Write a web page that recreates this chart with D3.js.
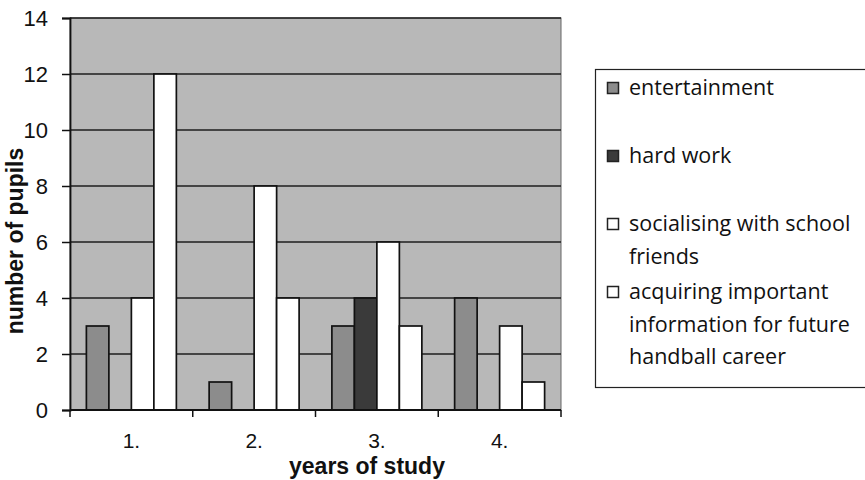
<!DOCTYPE html>
<html><head><meta charset="utf-8">
<script src="https://cdn.jsdelivr.net/npm/d3@7"></script>
<style>body{margin:0;background:#fff}svg{display:block}</style>
</head><body>
<svg id="c" width="865" height="480"></svg>
<script>
const categories = ["1.", "2.", "3.", "4."];
const seriesNames = ["entertainment", "hard work", "socialising with school friends", "acquiring important information for future handball career"];
const legendLines = [["entertainment"], ["hard work"], ["socialising with school", "friends"], ["acquiring important", "information for future", "handball career"]];
const entertainment = [3, 1, 3, 4];
const hardWork = [0, 0, 4, 0];
const socialising = [4, 8, 6, 3];
const acquiring = [12, 4, 3, 1];
const yTicks = [0, 2, 4, 6, 8, 10, 12, 14];
const seriesColors = ["#8c8c8c", "#3a3a3a", "#ffffff", "#ffffff"];

const values = [entertainment, hardWork, socialising, acquiring];
const svg = d3.select("#c");
const L = 70, R = 561, T = 18, B = 410;

const x0 = d3.scaleBand().domain(categories).range([L, R]).padding(0);
const bw = x0.bandwidth();
const x1 = d3.scaleBand().domain(d3.range(4)).range([bw * 0.1335, bw * 0.8665]).padding(0);
const y = d3.scaleLinear().domain([0, 14]).range([B, T]);

// plot area
svg.append("rect").attr("x", L).attr("y", T).attr("width", R - L).attr("height", B - T)
  .attr("fill", "#b8b8b8").attr("stroke", "#666").attr("stroke-width", 1);

// gridlines
svg.append("g").selectAll("line").data(yTicks.filter(d => d > 0)).join("line")
  .attr("x1", L).attr("x2", R).attr("y1", d => y(d)).attr("y2", d => y(d))
  .attr("stroke", "#1e1e1e").attr("stroke-width", 1.6);

// bars
const barData = [];
categories.forEach((c, i) => values.forEach((s, j) => barData.push({c, j, v: s[i]})));
svg.append("g").selectAll("rect").data(barData).join("rect")
  .attr("x", d => x0(d.c) + x1(d.j)).attr("width", x1.bandwidth())
  .attr("y", d => y(d.v)).attr("height", d => y(0) - y(d.v))
  .attr("fill", d => seriesColors[d.j])
  .attr("stroke", d => d.v > 0 ? "#111" : "none").attr("stroke-width", 1.7);

// y axis
const yAxis = svg.append("g").attr("transform", `translate(${L},0)`)
  .call(d3.axisLeft(y).tickValues(yTicks).tickSize(8).tickPadding(14).tickFormat(d3.format("d")));
yAxis.select(".domain").attr("stroke", "#111").attr("stroke-width", 1.8);
yAxis.selectAll(".tick line").attr("stroke", "#111").attr("stroke-width", 1.5);
yAxis.selectAll("text").attr("font-family", "'Liberation Sans', Arial, sans-serif").attr("font-size", 22).attr("fill", "#111");

// x axis
const xAxis = svg.append("g").attr("transform", `translate(0,${B})`)
  .call(d3.axisBottom(x0).tickSize(0).tickPadding(0));
xAxis.select(".domain").attr("stroke", "#111").attr("stroke-width", 1.8).attr("d", `M${L},0H${R}`);
xAxis.selectAll(".tick text").attr("font-family", "'Liberation Sans', Arial, sans-serif").attr("font-size", 21)
  .attr("fill", "#111").attr("dy", null).attr("y", 38);
svg.append("g").selectAll("line").data(categories.map(c => x0(c)).concat([R])).join("line")
  .attr("x1", d => d).attr("x2", d => d).attr("y1", B).attr("y2", B + 7)
  .attr("stroke", "#111").attr("stroke-width", 1.5);

// axis titles
svg.append("text").attr("x", 367).attr("y", 474).attr("text-anchor", "middle")
  .attr("font-family", "'Liberation Sans', Arial, sans-serif").attr("font-weight", "bold").attr("font-size", 23)
  .attr("fill", "#111").text("years of study");
svg.append("text").attr("transform", "translate(23,241) rotate(-90)").attr("text-anchor", "middle")
  .attr("font-family", "'Liberation Sans', Arial, sans-serif").attr("font-weight", "bold").attr("font-size", 23)
  .attr("fill", "#111").text("number of pupils");

// legend
svg.append("rect").attr("x", 595.5).attr("y", 69.5).attr("width", 280).attr("height", 318)
  .attr("fill", "#fff").attr("stroke", "#222").attr("stroke-width", 1.2);
const lg = svg.append("g");
legendLines.forEach((lines, i) => {
  const yy = 95 + i * 68;
  lg.append("rect").attr("x", 607.5).attr("y", yy - 12.5).attr("width", 11).attr("height", 11)
    .attr("fill", seriesColors[i]).attr("stroke", "#222").attr("stroke-width", 1.5);
  lines.forEach((t, k) => {
    lg.append("text").attr("x", 629).attr("y", yy + k * 32.5)
      .attr("font-family", "'Open Sans', 'Noto Sans', sans-serif").attr("font-size", 21.5).attr("fill", "#111").text(t);
  });
});
</script>
</body></html>
